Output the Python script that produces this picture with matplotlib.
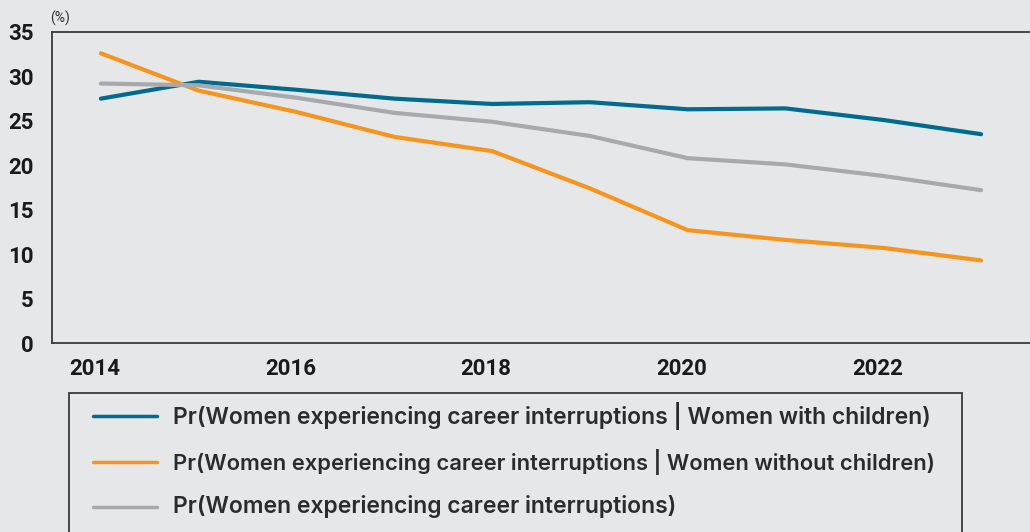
import matplotlib
matplotlib.use("Agg")
import matplotlib.pyplot as plt
import matplotlib.transforms as mtransforms
from matplotlib.patches import Rectangle
from matplotlib.lines import Line2D

# ====== data ======
years = [2014, 2015, 2016, 2017, 2018, 2019, 2020, 2021, 2022, 2023]
with_children = [27.5, 29.4, 28.5, 27.5, 26.9, 27.1, 26.3, 26.4, 25.1, 23.5]
without_children = [32.6, 28.4, 26.0, 23.2, 21.6, 17.4, 12.7, 11.6, 10.7, 9.3]
all_women = [29.2, 29.0, 27.6, 25.9, 24.9, 23.3, 20.8, 20.1, 18.8, 17.2]

labels = [
    "Pr(Women experiencing career interruptions | Women with children)",
    "Pr(Women experiencing career interruptions | Women without children)",
    "Pr(Women experiencing career interruptions)",
]
colors = ["#006b8f", "#f7941d", "#a7a9ac"]
xticks = [2014, 2016, 2018, 2020, 2022]
yticks = [0, 5, 10, 15, 20, 25, 30, 35]

bg = "#e6e7e8"
W, H = 1030, 532

fig = plt.figure(figsize=(W / 100, H / 100), dpi=100, facecolor=bg)
ax = fig.add_axes([52 / W, 1 - 343 / H, 1 - 52 / W, (343 - 32) / H])
ax.set_facecolor(bg)

for ys, c, lab in zip([with_children, without_children, all_women], colors, labels):
    ax.plot(years, ys, color=c, lw=3, label=lab, solid_capstyle="round")

ax.set_xlim(2013.5, 2023.5)
ax.set_ylim(0, 35)
ax.set_xticks(xticks)
ax.set_yticks(yticks)
ax.tick_params(length=0, labelsize=16)
ax.tick_params(axis="y", pad=13)
ax.tick_params(axis="x", pad=11)
shift = mtransforms.ScaledTranslation(-6 / 100, 0, fig.dpi_scale_trans)
for t in ax.get_xticklabels():
    t.set_transform(t.get_transform() + shift)
for t in ax.get_xticklabels() + ax.get_yticklabels():
    t.set_fontfamily("Roboto")
    t.set_fontweight("bold")
    t.set_color("#1a1a1a")

for s in ["left", "top", "bottom"]:
    ax.spines[s].set_color("#3a3a3a")
    ax.spines[s].set_linewidth(1.3)
ax.spines["right"].set_visible(False)

fig.text(50 / W, 1 - 18 / H, "(%)", fontsize=10, family="Roboto",
         color="#333333", va="center", ha="left")

# ====== legend box (runs off the bottom) ======
fig.patches.append(Rectangle((69 / W, -0.05), (962 - 69) / W, 0.05 + 1 - 393 / H,
                             transform=fig.transFigure, fill=False,
                             edgecolor="#3a3a3a", lw=1.3))
# legend rows drawn by hand so the spacing stays even
row_y = [416, 462, 507]
row_size = [16.5, 15.8, 16.5]  # second row is set a little tighter in the original
for yy, sz, c, lab in zip(row_y, row_size, colors, labels):
    fy = 1 - yy / H
    fig.lines.append(Line2D([93 / W, 157 / W], [fy, fy], transform=fig.transFigure,
                            color=c, lw=2.5, solid_capstyle="round"))
    fig.text(173 / W, fy, lab, family="Inter", weight="semibold", fontsize=sz,
             color="#2b2b2b", va="center", ha="left")

fig.savefig("out.png", dpi=100, facecolor=bg)
